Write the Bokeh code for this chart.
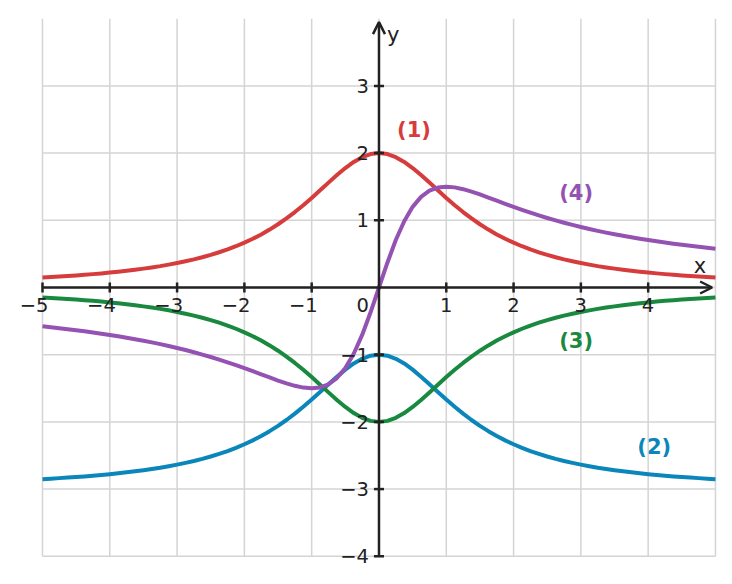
from bokeh.plotting import figure
from bokeh.models import Arrow, OpenHead, Range1d
from bokeh.embed import file_html
from bokeh.resources import INLINE
from bokeh.core.properties import value

# x positions (step 0.125) and values
xs = [-5.0, -4.875, -4.75, -4.625, -4.5, -4.375, -4.25, -4.125, -4.0, -3.875, -3.75, -3.625,
      -3.5, -3.375, -3.25, -3.125, -3.0, -2.875, -2.75, -2.625, -2.5, -2.375, -2.25, -2.125,
      -2.0, -1.875, -1.75, -1.625, -1.5, -1.375, -1.25, -1.125, -1.0, -0.875, -0.75, -0.625,
      -0.5, -0.375, -0.25, -0.125, 0.0, 0.125, 0.25, 0.375, 0.5, 0.625, 0.75, 0.875, 1.0,
      1.125, 1.25, 1.375, 1.5, 1.625, 1.75, 1.875, 2.0, 2.125, 2.25, 2.375, 2.5, 2.625, 2.75,
      2.875, 3.0, 3.125, 3.25, 3.375, 3.5, 3.625, 3.75, 3.875, 4.0, 4.125, 4.25, 4.375, 4.5,
      4.625, 4.75, 4.875, 5.0]

half1 = [0.148, 0.155, 0.163, 0.171, 0.180, 0.189, 0.199, 0.210, 0.222, 0.235, 0.249, 0.264,
         0.281, 0.299, 0.318, 0.340, 0.364, 0.390, 0.418, 0.450, 0.485, 0.524, 0.566, 0.614,
         0.667, 0.725, 0.790, 0.862, 0.941, 1.028, 1.123, 1.225, 1.333, 1.446, 1.561, 1.673,
         1.778, 1.869, 1.939, 1.985, 2.0]
curve1 = half1 + half1[-2::-1]
curve2 = [v - 3.0 for v in curve1]
curve3 = [-v for v in curve1]
half4 = [-0.577, -0.591, -0.605, -0.620, -0.635, -0.652, -0.669, -0.687, -0.706, -0.726,
         -0.747, -0.769, -0.793, -0.817, -0.843, -0.871, -0.900, -0.931, -0.964, -0.998,
         -1.034, -1.073, -1.113, -1.156, -1.200, -1.246, -1.292, -1.339, -1.385, -1.427,
         -1.463, -1.490, -1.500, -1.487, -1.440, -1.348, -1.200, -0.986, -0.706, -0.369, 0.0]
curve4 = half4 + [-v for v in half4[-2::-1]]

series = [("(1)", curve1, "#d63c3c", 0.52, 2.35),
          ("(2)", curve2, "#0a86ba", 4.09, -2.38),
          ("(3)", curve3, "#18893f", 2.93, -0.79),
          ("(4)", curve4, "#9452b3", 2.93, 1.40)]

x_ticks = [-5, -4, -3, -2, -1, 1, 2, 3, 4]
y_ticks = [-4, -3, -2, -1, 1, 2, 3]
grid_x = [-5, -4, -3, -2, -1, 0, 1, 2, 3, 4, 5]
grid_y = [-4, -3, -2, -1, 0, 1, 2, 3]

FONT = "DejaVu Sans"

p = figure(width=732, height=584, output_backend="svg", toolbar_location=None,
           x_range=Range1d(-5.624, 5.253), y_range=Range1d(-4.42, 4.271),
           min_border=0)
p.axis.visible = False
p.grid.visible = False
p.outline_line_color = None
p.background_fill_color = "white"
p.border_fill_color = "white"

gc = "#d4d4d4"
p.segment(x0=grid_x, y0=[-4] * len(grid_x), x1=grid_x, y1=[4] * len(grid_x),
          line_color=gc, line_width=1.5)
p.segment(x0=[-5] * len(grid_y), y0=grid_y, x1=[5] * len(grid_y), y1=grid_y,
          line_color=gc, line_width=1.5)

for name, ys, col, lx, ly in series:
    p.line(xs, ys, line_color=col, line_width=4, line_join="round")

# axes
ac = "#222222"
p.add_layout(Arrow(end=OpenHead(size=12, line_color=ac, line_width=2.5),
                   x_start=-5, y_start=0, x_end=4.95, y_end=0,
                   line_color=ac, line_width=2.5))
p.add_layout(Arrow(end=OpenHead(size=12, line_color=ac, line_width=2.5),
                   x_start=0, y_start=-4, x_end=0, y_end=3.95,
                   line_color=ac, line_width=2.5))

tk = 0.075
p.segment(x0=x_ticks, y0=[-tk] * len(x_ticks), x1=x_ticks, y1=[tk] * len(x_ticks),
          line_color=ac, line_width=2.5)
p.segment(x0=[-tk] * len(y_ticks), y0=y_ticks, x1=[tk] * len(y_ticks), y1=y_ticks,
          line_color=ac, line_width=2.5)

lc = "#222222"
p.text(x=x_ticks, y=[0] * len(x_ticks),
       text=[("\u2212" + str(-t)) if t < 0 else str(t) for t in x_ticks],
       text_align="right", text_baseline="middle", x_offset=6, y_offset=18,
       text_font=value(FONT), text_font_size="19.5px", text_color=lc)
p.text(x=[0] * len(y_ticks), y=y_ticks,
       text=[("\u2212" + str(-t)) if t < 0 else str(t) for t in y_ticks],
       text_align="right", text_baseline="middle", x_offset=-10, y_offset=0,
       text_font=value(FONT), text_font_size="19.5px", text_color=lc)
p.text(x=[0], y=[0], text=["0"], text_align="right", text_baseline="middle",
       x_offset=-10, y_offset=18, text_font=value(FONT), text_font_size="19.5px",
       text_color=lc)
p.text(x=[0], y=[3.95], text=["y"], text_align="left", text_baseline="middle",
       x_offset=8, y_offset=13, text_font=value(FONT), text_font_size="21px",
       text_color=lc)
p.text(x=[4.95], y=[0], text=["x"], text_align="right", text_baseline="middle",
       x_offset=-6, y_offset=-21, text_font=value(FONT), text_font_size="21px",
       text_color=lc)

for name, ys, col, lx, ly in series:
    p.text(x=[lx], y=[ly], text=[name], text_align="center", text_baseline="middle",
           text_font=value(FONT), text_font_size="21px", text_font_style="bold",
           text_color=col)

open("out.html", "w").write(file_html(p, INLINE))
